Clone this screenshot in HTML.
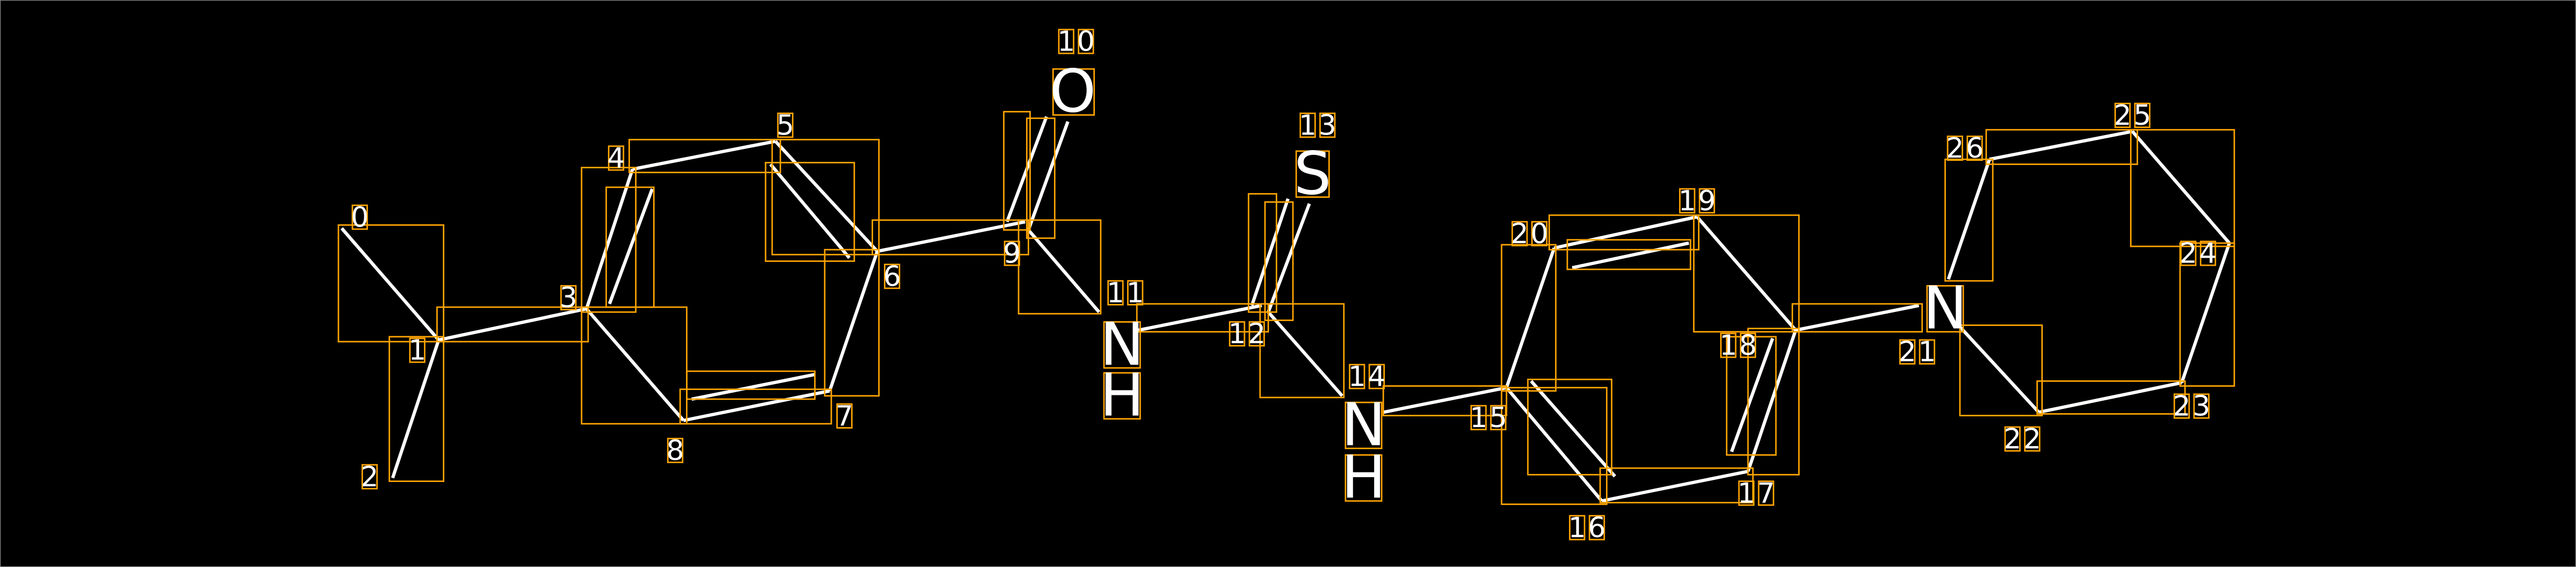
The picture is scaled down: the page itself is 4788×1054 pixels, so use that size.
<!DOCTYPE html>
<html><head><meta charset="utf-8"><style>
html,body{margin:0;padding:0;background:#000;width:4788px;height:1054px;overflow:hidden}
svg{display:block}
text{font-family:"DejaVu Sans","Liberation Sans",sans-serif;fill:#fff}
</style></head><body>
<svg width="4788" height="1054" viewBox="0 0 1568 345.2" preserveAspectRatio="none" xmlns="http://www.w3.org/2000/svg">
<defs>
<g id="d"><rect x="-4.5" y="-13" width="9" height="14.5" fill="none" stroke="#ffa500" stroke-width="0.9"/></g>
</defs>
<rect x="0" y="0" width="1568" height="345.2" fill="#000" stroke="#888" stroke-width="0.8"/>
<g stroke="#fff" stroke-width="2" stroke-linecap="butt" fill="none">
<line x1="208" y1="139" x2="267" y2="207"/>
<line x1="267" y1="207" x2="239" y2="291"/>
<line x1="267" y1="207" x2="357" y2="188"/>
<line x1="357" y1="188" x2="385" y2="103"/>
<line x1="371" y1="185" x2="397" y2="115"/>
<line x1="385" y1="103" x2="472" y2="86"/>
<line x1="472" y1="86" x2="534" y2="153"/>
<line x1="469" y1="100" x2="517" y2="157"/>
<line x1="534" y1="153" x2="505" y2="238"/>
<line x1="505" y1="238" x2="416" y2="256"/>
<line x1="421" y1="243" x2="496" y2="228"/>
<line x1="416" y1="256" x2="357" y2="188"/>
<line x1="534" y1="153" x2="624" y2="135"/>
<line x1="613" y1="135" x2="637" y2="71"/>
<line x1="626" y1="140" x2="650" y2="74"/>
<line x1="626" y1="140" x2="669" y2="190"/>
<line x1="693" y1="201" x2="768" y2="186"/>
<line x1="762" y1="186" x2="784" y2="121"/>
<line x1="772" y1="190" x2="797" y2="124"/>
<line x1="772" y1="190" x2="817" y2="241"/>
<line x1="842" y1="251" x2="917" y2="236"/>
<line x1="917" y1="236" x2="975" y2="305"/>
<line x1="932" y1="232" x2="983" y2="290"/>
<line x1="975" y1="305" x2="1064" y2="287"/>
<line x1="1064" y1="287" x2="1093" y2="201"/>
<line x1="1054" y1="275" x2="1079" y2="206"/>
<line x1="1093" y1="201" x2="1033" y2="132"/>
<line x1="1033" y1="132" x2="946" y2="151"/>
<line x1="957" y1="163" x2="1028" y2="148"/>
<line x1="946" y1="151" x2="917" y2="236"/>
<line x1="1093" y1="201" x2="1168" y2="186"/>
<line x1="1193" y1="199" x2="1241" y2="251"/>
<line x1="1241" y1="251" x2="1328" y2="233"/>
<line x1="1328" y1="233" x2="1357" y2="148"/>
<line x1="1357" y1="148" x2="1298" y2="80"/>
<line x1="1298" y1="80" x2="1211" y2="97"/>
<line x1="1211" y1="97" x2="1186" y2="170"/>
</g>
<g stroke="#ffa500" stroke-width="0.9" fill="none">
<rect x="206" y="137" width="64" height="71"/>
<rect x="237" y="205" width="33" height="88"/>
<rect x="266" y="187" width="92" height="21"/>
<rect x="354" y="102" width="33" height="88"/>
<rect x="369" y="114" width="29" height="73"/>
<rect x="383" y="85" width="92" height="20"/>
<rect x="470" y="85" width="65" height="70"/>
<rect x="466" y="99" width="54" height="60"/>
<rect x="502" y="152" width="33" height="89"/>
<rect x="414" y="237" width="92" height="21"/>
<rect x="418" y="226" width="78" height="17"/>
<rect x="354" y="187" width="64" height="71"/>
<rect x="531" y="134" width="95" height="21"/>
<rect x="611" y="68" width="16" height="72"/>
<rect x="625" y="72" width="17" height="73"/>
<rect x="620" y="134" width="50" height="57"/>
<rect x="692" y="185" width="80" height="17"/>
<rect x="760" y="118" width="17" height="72"/>
<rect x="770" y="123" width="17" height="72"/>
<rect x="767" y="185" width="51" height="57"/>
<rect x="842" y="235" width="75" height="18"/>
<rect x="914" y="149" width="33" height="89"/>
<rect x="943" y="131" width="91" height="21"/>
<rect x="954" y="146" width="75" height="18"/>
<rect x="1031" y="131" width="64" height="71"/>
<rect x="1091" y="185" width="79" height="17"/>
<rect x="1064" y="200" width="31" height="89"/>
<rect x="1051" y="205" width="30" height="72"/>
<rect x="974" y="285" width="93" height="21"/>
<rect x="914" y="236" width="64" height="71"/>
<rect x="930" y="231" width="51" height="58"/>
<rect x="1193" y="198" width="50" height="55"/>
<rect x="1240" y="232" width="90" height="20"/>
<rect x="1327" y="148" width="33" height="87"/>
<rect x="1297" y="79" width="63" height="71"/>
<rect x="1209" y="79" width="92" height="21"/>
<rect x="1184" y="97" width="29" height="74"/>
<rect x="641" y="42" width="25" height="28"/>
<rect x="789" y="92" width="20" height="28"/>
<rect x="672" y="196" width="22" height="28"/>
<rect x="672" y="227" width="22" height="28"/>
<rect x="819" y="245" width="22" height="28"/>
<rect x="819" y="277" width="22" height="28"/>
<rect x="1173" y="174" width="22" height="28"/>
</g>
<g font-size="36" text-anchor="middle">
<text x="653" y="68">O</text>
<text x="799" y="118">S</text>
<text x="683" y="222">N</text>
<text x="683" y="253">H</text>
<text x="830" y="271">N</text>
<text x="830" y="303">H</text>
<text x="1184" y="200">N</text>
</g>
<g>
<use href="#d" x="219" y="138"/>
<use href="#d" x="254" y="219"/>
<use href="#d" x="225" y="296"/>
<use href="#d" x="346" y="187"/>
<use href="#d" x="375" y="102"/>
<use href="#d" x="478" y="82"/>
<use href="#d" x="543" y="174"/>
<use href="#d" x="514" y="259"/>
<use href="#d" x="411" y="280"/>
<use href="#d" x="616" y="160"/>
<use href="#d" x="649" y="31"/><use href="#d" x="661" y="31"/>
<use href="#d" x="679" y="184"/><use href="#d" x="691" y="184"/>
<use href="#d" x="753" y="209"/><use href="#d" x="765" y="209"/>
<use href="#d" x="796" y="82"/><use href="#d" x="808" y="82"/>
<use href="#d" x="826" y="235"/><use href="#d" x="838" y="235"/>
<use href="#d" x="900" y="260"/><use href="#d" x="912" y="260"/>
<use href="#d" x="960" y="327"/><use href="#d" x="972" y="327"/>
<use href="#d" x="1063" y="306"/><use href="#d" x="1075" y="306"/>
<use href="#d" x="1052" y="216"/><use href="#d" x="1064" y="216"/>
<use href="#d" x="1027" y="128"/><use href="#d" x="1039" y="128"/>
<use href="#d" x="925" y="148"/><use href="#d" x="937" y="148"/>
<use href="#d" x="1161" y="220"/><use href="#d" x="1173" y="220"/>
<use href="#d" x="1225" y="273"/><use href="#d" x="1237" y="273"/>
<use href="#d" x="1328" y="253"/><use href="#d" x="1340" y="253"/>
<use href="#d" x="1332" y="160"/><use href="#d" x="1344" y="160"/>
<use href="#d" x="1292" y="76"/><use href="#d" x="1304" y="76"/>
<use href="#d" x="1190" y="96"/><use href="#d" x="1202" y="96"/>
</g>
<g font-size="17" text-anchor="middle">
<text x="219" y="138">0</text>
<text x="254" y="219">1</text>
<text x="225" y="296">2</text>
<text x="346" y="187">3</text>
<text x="375" y="102">4</text>
<text x="478" y="82">5</text>
<text x="543" y="174">6</text>
<text x="514" y="259">7</text>
<text x="411" y="280">8</text>
<text x="616" y="160">9</text>
<text x="649" y="31">1</text><text x="661" y="31">0</text>
<text x="679" y="184">1</text><text x="691" y="184">1</text>
<text x="753" y="209">1</text><text x="765" y="209">2</text>
<text x="796" y="82">1</text><text x="808" y="82">3</text>
<text x="826" y="235">1</text><text x="838" y="235">4</text>
<text x="900" y="260">1</text><text x="912" y="260">5</text>
<text x="960" y="327">1</text><text x="972" y="327">6</text>
<text x="1063" y="306">1</text><text x="1075" y="306">7</text>
<text x="1052" y="216">1</text><text x="1064" y="216">8</text>
<text x="1027" y="128">1</text><text x="1039" y="128">9</text>
<text x="925" y="148">2</text><text x="937" y="148">0</text>
<text x="1161" y="220">2</text><text x="1173" y="220">1</text>
<text x="1225" y="273">2</text><text x="1237" y="273">2</text>
<text x="1328" y="253">2</text><text x="1340" y="253">3</text>
<text x="1332" y="160">2</text><text x="1344" y="160">4</text>
<text x="1292" y="76">2</text><text x="1304" y="76">5</text>
<text x="1190" y="96">2</text><text x="1202" y="96">6</text>
</g>
</svg>
</body></html>
